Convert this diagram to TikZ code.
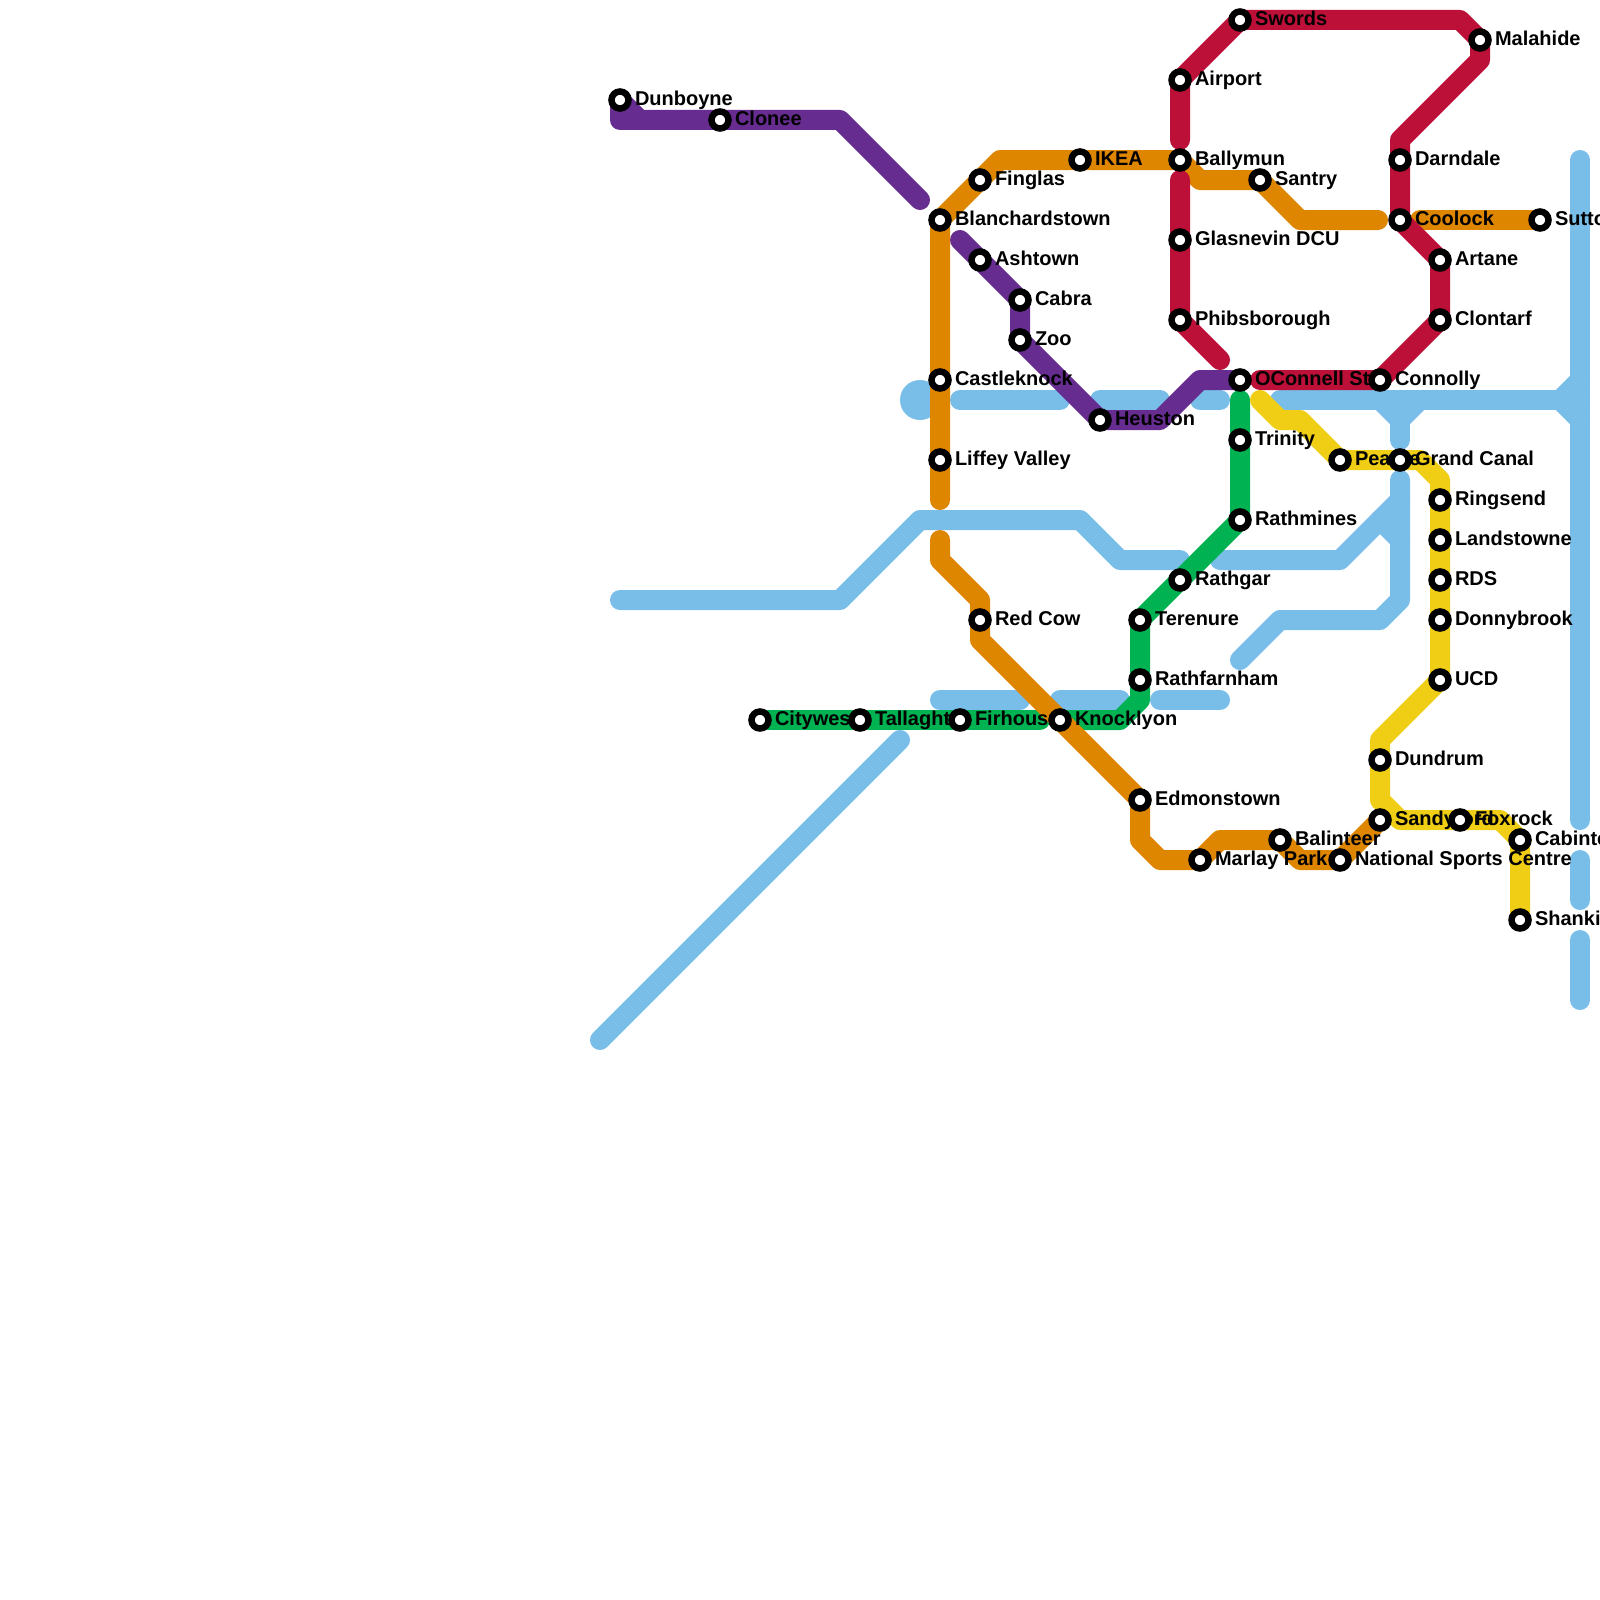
\documentclass[tikz,border=0pt]{standalone}
\usepackage{fontspec}
\setmainfont{Liberation Sans}
\pgfdeclarelayer{lines}
\pgfdeclarelayer{labs}
\pgfsetlayers{lines,labs,main}
\definecolor{cblue}{HTML}{79BDE9}
\definecolor{cgreen}{HTML}{00B251}
\definecolor{cpurple}{HTML}{662C90}
\definecolor{corange}{HTML}{DF8600}
\definecolor{ccrim}{HTML}{BD1038}
\definecolor{cyell}{HTML}{F0CE15}
\tikzset{
  route/.style={line width=20pt,line cap=round,line join=round},
  stn/.style={circle,draw=black,fill=white,line width=6.5pt,inner sep=0pt,outer sep=0pt,minimum size=17pt},
  lbl/.style={anchor=base west,inner sep=0pt,outer sep=0pt,font=\fontsize{20}{20}\selectfont\bfseries,text=black},
}
\newcommand{\st}[4]{%
  \node[stn] (#1) at (#2,#3) {};
  \begin{pgfonlayer}{labs}
    \node[lbl] (#1-l) at (#2+15,#3+5.5) {#4};
  \end{pgfonlayer}
}
\begin{document}
\begin{tikzpicture}[x=1pt,y=-1pt]
\useasboundingbox (0,0) rectangle (1600,1600);
\st{dunboyne}{620}{100}{Dunboyne}
\st{clonee}{720}{120}{Clonee}
\st{blanch}{940}{220}{Blanchardstown}
\st{finglas}{980}{180}{Finglas}
\st{ikea}{1080}{160}{IKEA}
\st{ballymun}{1180}{160}{Ballymun}
\st{santry}{1260}{180}{Santry}
\st{coolock}{1400}{220}{Coolock}
\st{sutton}{1540}{220}{Sutton}
\st{darndale}{1400}{160}{Darndale}
\st{artane}{1440}{260}{Artane}
\st{clontarf}{1440}{320}{Clontarf}
\st{oconnell}{1240}{380}{OConnell St}
\st{connolly}{1380}{380}{Connolly}
\st{swords}{1240}{20}{Swords}
\st{airport}{1180}{80}{Airport}
\st{glasnevin}{1180}{240}{Glasnevin DCU}
\st{phibs}{1180}{320}{Phibsborough}
\st{malahide}{1480}{40}{Malahide}
\st{ashtown}{980}{260}{Ashtown}
\st{cabra}{1020}{300}{Cabra}
\st{zoo}{1020}{340}{Zoo}
\st{castle}{940}{380}{Castleknock}
\st{liffey}{940}{460}{Liffey Valley}
\st{heuston}{1100}{420}{Heuston}
\st{trinity}{1240}{440}{Trinity}
\st{rathmines}{1240}{520}{Rathmines}
\st{rathgar}{1180}{580}{Rathgar}
\st{terenure}{1140}{620}{Terenure}
\st{rathfarn}{1140}{680}{Rathfarnham}
\st{citywest}{760}{720}{Citywest}
\st{tallaght}{860}{720}{Tallaght}
\st{firhouse}{960}{720}{Firhouse}
\st{knocklyon}{1060}{720}{Knocklyon}
\st{redcow}{980}{620}{Red Cow}
\st{edmon}{1140}{800}{Edmonstown}
\st{marlay}{1200}{860}{Marlay Park}
\st{balinteer}{1280}{840}{Balinteer}
\st{nsc}{1340}{860}{National Sports Centre}
\st{sandyford}{1380}{820}{Sandyford}
\st{foxrock}{1460}{820}{Foxrock}
\st{cabinteely}{1520}{840}{Cabinteely}
\st{shankill}{1520}{920}{Shankill}
\st{dundrum}{1380}{760}{Dundrum}
\st{ucd}{1440}{680}{UCD}
\st{donny}{1440}{620}{Donnybrook}
\st{rds}{1440}{580}{RDS}
\st{landst}{1440}{540}{Landstowne}
\st{ringsend}{1440}{500}{Ringsend}
\st{pearse}{1340}{460}{Pearse}
\st{grandcanal}{1400}{460}{Grand Canal}
\begin{pgfonlayer}{lines}
% blue
\begin{scope}[route,draw=cblue]
\fill[cblue] (920,400) circle (20);
\draw (600,1040) -- (900,740);
\draw (620,600) -- (840,600) -- (920,520) -- (1080,520) -- (1120,560) -- (1180,560);
\draw (1220,560) -- (1340,560) -- (1400,500);
\draw (1380,520) -- (1400,540);
\draw (1400,480) -- (1400,600) -- (1380,620) -- (1280,620) -- (1240,660);
\draw (960,400) -- (1060,400);
\draw (1100,400) -- (1160,400);
\draw (1200,400) -- (1220,400);
\draw (1280,400) -- (1580,400);
\draw (1560,400) -- (1580,380);
\draw (1560,400) -- (1580,420);
\draw (1380,400) -- (1400,420) -- (1420,400);
\draw (1400,420) -- (1400,440);
\draw (1580,160) -- (1580,820);
\draw (1580,860) -- (1580,900);
\draw (1580,940) -- (1580,1000);
\draw (940,700) -- (1020,700);
\draw (1060,700) -- (1120,700);
\draw (1160,700) -- (1220,700);
\end{scope}
% green
\begin{scope}[route,draw=cgreen]
\draw (citywest.center) -- (tallaght.center) -- (firhouse.center) -- (1040,720);
\draw (knocklyon.center) -- (1120,720) -- (1140,700) -- (rathfarn.center) -- (terenure.center) -- (rathgar.center) -- (rathmines.center) -- (trinity.center) -- (1240,400);
\end{scope}
% purple
\begin{scope}[route,draw=cpurple]
\draw (dunboyne.center) -- (640,120);
\draw (dunboyne.center) -- (620,120) -- (clonee.center) -- (840,120) -- (920,200);
\draw (960,240) -- (ashtown.center) -- (cabra.center) -- (zoo.center) -- (heuston.center) -- (1160,420) -- (1200,380) -- (oconnell.center);
\end{scope}
% orange
\begin{scope}[route,draw=corange]
\draw (940,500) -- (liffey.center) -- (castle.center) -- (blanch.center) -- (finglas.center) -- (1000,160) -- (ikea.center) -- (ballymun.center) -- (1200,180) -- (santry.center) -- (1300,220) -- (1378,220);
\draw (1420,220) -- (sutton.center);
\draw (940,540) -- (940,560) -- (980,600) -- (redcow.center) -- (980,640) -- (knocklyon.center) -- (edmon.center) -- (1140,840) -- (1160,860) -- (marlay.center) -- (1220,840) -- (balinteer.center) -- (1300,860) -- (nsc.center) -- (sandyford.center);
\end{scope}
% crimson
\begin{scope}[route,draw=ccrim]
\draw (1180,140) -- (airport.center) -- (swords.center) -- (1460,20) -- (malahide.center) -- (1480,60) -- (1400,140) -- (darndale.center) -- (coolock.center) -- (artane.center) -- (clontarf.center) -- (connolly.center) -- (1260,380);
\draw (1180,180) -- (glasnevin.center) -- (phibs.center) -- (1220,360);
\end{scope}
% yellow
\begin{scope}[route,draw=cyell]
\draw (1260,400) -- (1280,420) -- (1300,420) -- (pearse.center) -- (grandcanal.center) -- (1420,460) -- (1440,480) -- (ringsend.center) -- (landst.center) -- (rds.center) -- (donny.center) -- (ucd.center) -- (1380,740) -- (dundrum.center) -- (1380,800) -- (1400,820) -- (foxrock.center) -- (1500,820) -- (cabinteely.center) -- (shankill.center);
\end{scope}
\end{pgfonlayer}
\end{tikzpicture}
\end{document}
